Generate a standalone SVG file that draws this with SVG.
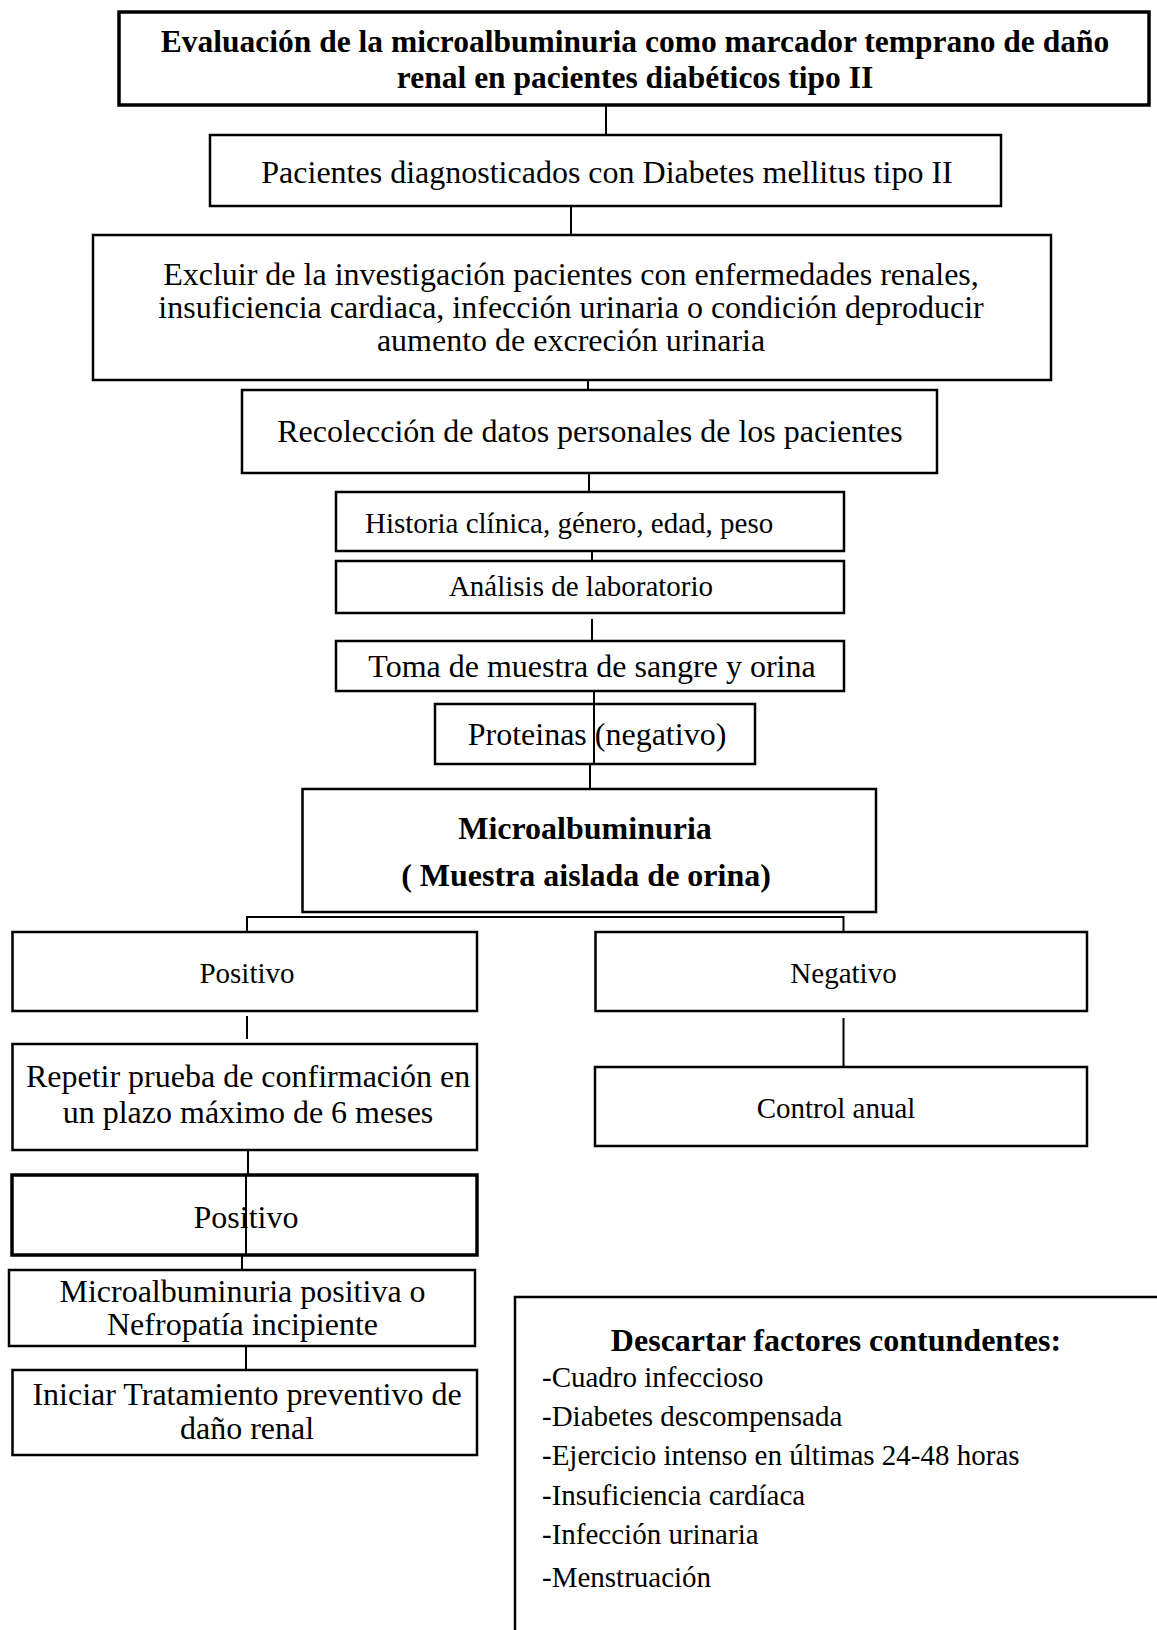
<svg xmlns="http://www.w3.org/2000/svg" width="1157" height="1630" viewBox="0 0 1157 1630">
<style>
.box{fill:#fff;stroke:#000;stroke-width:2.5}
.thick{stroke-width:3.5}
.ln{stroke:#000;stroke-width:2;fill:none}
text{font-family:"Liberation Serif","Times New Roman",serif;fill:#000}
.t32{font-size:32px}
.t29{font-size:29px}
.b{font-weight:bold}
.c{text-anchor:middle}
</style>
<rect width="1157" height="1630" fill="#fff"/>
<g id="connectors">
<line class="ln" x1="606" y1="105" x2="606" y2="135"/>
<line class="ln" x1="571" y1="207" x2="571" y2="235"/>
<line class="ln" x1="588" y1="380" x2="588" y2="390"/>
<line class="ln" x1="589" y1="473" x2="589" y2="492"/>
<line class="ln" x1="592" y1="548" x2="592" y2="567"/>
<line class="ln" x1="592" y1="619" x2="592" y2="646"/>
<line class="ln" x1="590" y1="764" x2="590" y2="789"/>
<polyline class="ln" points="247,937 247,917 843.5,917 843.5,937"/>
<line class="ln" x1="247" y1="1016" x2="247" y2="1039"/>
<line class="ln" x1="843.5" y1="1018" x2="843.5" y2="1067"/>
<line class="ln" x1="248" y1="1147" x2="248" y2="1175"/>
<line class="ln" x1="242" y1="1255" x2="242" y2="1270"/>
<line class="ln" x1="246" y1="1346" x2="246" y2="1370"/>
</g>
<g id="n-title">
<rect class="box thick" x="119" y="12" width="1030" height="93"/>
<text class="t32 b c" x="635" y="52" style="font-size:31.5px">Evaluación de la microalbuminuria como marcador temprano de daño</text>
<text class="t32 b c" x="635" y="88" style="font-size:31.5px">renal en pacientes diabéticos tipo II</text>
</g>
<g id="n-pacientes">
<rect class="box" x="210" y="135" width="791" height="71"/>
<text class="t32 c" x="607" y="183">Pacientes diagnosticados con Diabetes mellitus tipo II</text>
</g>
<g id="n-excluir">
<rect class="box" x="93" y="235" width="958" height="145"/>
<text class="t32 c" x="571" y="285">Excluir de la investigación pacientes con enfermedades renales,</text>
<text class="t32 c" x="571" y="318">insuficiencia cardiaca, infección urinaria o condición deproducir</text>
<text class="t32 c" x="571" y="351">aumento de excreción urinaria</text>
</g>
<g id="n-recoleccion">
<rect class="box" x="242" y="390" width="695" height="83"/>
<text class="t32 c" x="590" y="442">Recolección de datos personales de los pacientes</text>
</g>
<g id="n-historia">
<rect class="box" x="336" y="492" width="508" height="59"/>
<text class="t29" x="365" y="533">Historia clínica, género, edad, peso</text>
</g>
<g id="n-analisis">
<rect class="box" x="336" y="561" width="508" height="52"/>
<text class="t29 c" x="581" y="596">Análisis de laboratorio</text>
</g>
<g id="n-toma">
<rect class="box" x="336" y="641" width="508" height="50"/>
<text class="t32 c" x="592" y="677">Toma de muestra de sangre y orina</text>
</g>
<g id="n-proteinas">
<rect class="box" x="435" y="704" width="320" height="60"/>
<text class="t32 c" x="597" y="745">Proteinas (negativo)</text>
<line class="ln" x1="594" y1="691" x2="594" y2="764"/>
</g>
<g id="n-micro">
<rect class="box" x="302.5" y="789" width="573.5" height="123"/>
<text class="t32 b c" x="585" y="839">Microalbuminuria</text>
<text class="t32 b c" x="586" y="886">( Muestra aislada de orina)</text>
</g>
<g id="n-positivo">
<rect class="box" x="12.5" y="932" width="464.5" height="79"/>
<text class="t29 c" x="247" y="983">Positivo</text>
</g>
<g id="n-negativo">
<rect class="box" x="595.5" y="932" width="491.5" height="79"/>
<text class="t29 c" x="843.5" y="983">Negativo</text>
</g>
<g id="n-repetir">
<rect class="box" x="12.5" y="1044" width="464.5" height="106"/>
<text class="t32 c" x="248" y="1087">Repetir prueba de confirmación en</text>
<text class="t32 c" x="248" y="1123">un plazo máximo de 6 meses</text>
</g>
<g id="n-control">
<rect class="box" x="595" y="1067" width="492" height="79"/>
<text class="t29 c" x="836" y="1118">Control anual</text>
</g>
<g id="n-positivo2">
<rect class="box thick" x="12" y="1175" width="465" height="80"/>
<text class="t32 c" x="246" y="1228">Positivo</text>
<line class="ln" x1="246" y1="1175" x2="246" y2="1255"/>
</g>
<g id="n-microposit">
<rect class="box" x="9" y="1270" width="466" height="76"/>
<text class="t32 c" x="242.5" y="1302">Microalbuminuria positiva o</text>
<text class="t32 c" x="242.5" y="1335">Nefropatía incipiente</text>
</g>
<g id="n-iniciar">
<rect class="box" x="12.5" y="1370" width="464.5" height="85"/>
<text class="t32 c" x="247" y="1405">Iniciar Tratamiento preventivo de</text>
<text class="t32 c" x="247" y="1439">daño renal</text>
</g>
<g id="n-descartar">
<rect class="box" x="515" y="1297" width="700" height="400"/>
<text class="t32 b c" x="836" y="1351">Descartar factores contundentes:</text>
<text class="t29" x="542" y="1387">-Cuadro infeccioso</text>
<text class="t29" x="542" y="1426">-Diabetes descompensada</text>
<text class="t29" x="542" y="1465">-Ejercicio intenso en últimas 24-48 horas</text>
<text class="t29" x="542" y="1505">-Insuficiencia cardíaca</text>
<text class="t29" x="542" y="1544">-Infección urinaria</text>
<text class="t29" x="542" y="1587">-Menstruación</text>
</g>
</svg>
